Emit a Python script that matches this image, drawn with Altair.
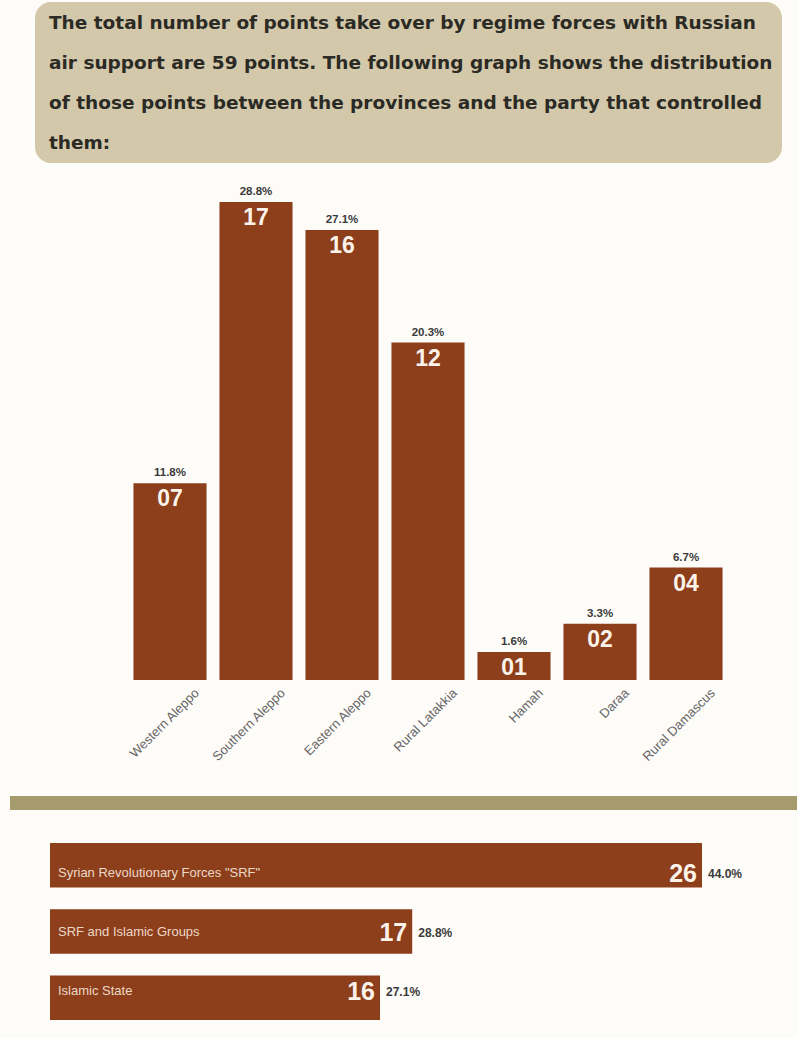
import altair as alt
import pandas as pd

# ---------------- data ----------------
header_lines = [
    "The total number of points take over by regime forces with Russian",
    "air support are 59 points. The following graph shows the distribution",
    "of those points between the provinces and the party that controlled",
    "them:",
]

provinces = ["Western Aleppo", "Southern Aleppo", "Eastern Aleppo", "Rural Latakkia",
             "Hamah", "Daraa", "Rural Damascus"]
province_points = [7, 17, 16, 12, 1, 2, 4]
province_labels = ["07", "17", "16", "12", "01", "02", "04"]
province_pct = ["11.8%", "28.8%", "27.1%", "20.3%", "1.6%", "3.3%", "6.7%"]

parties = ["Syrian Revolutionary Forces \"SRF\"", "SRF and Islamic Groups", "Islamic State"]
party_points = [26, 17, 16]
party_pct = ["44.0%", "28.8%", "27.1%"]

BROWN = "#8d3e1b"
TAN = "#d3c8aa"
OLIVE = "#a59b6c"
FONT = "Liberation Sans"

hdr = pd.DataFrame({"line": list(range(len(header_lines))), "text": header_lines})
prov = pd.DataFrame({"province": provinces, "points": province_points,
                     "label": province_labels, "pct": province_pct})
party = pd.DataFrame({"party": parties, "points": party_points, "pct": party_pct})

# ---------------- header ----------------
box = alt.Chart(pd.DataFrame({"a": [0]})).mark_rect(
    color=TAN, cornerRadius=16
).encode(x=alt.value(35), x2=alt.value(782), y=alt.value(2), y2=alt.value(163))

hdr_text = alt.Chart(hdr).mark_text(
    align="left", baseline="middle", font="DejaVu Sans", fontSize=18.5, fontWeight="bold",
    color="#2b2a24"
).encode(
    x=alt.value(49),
    y=alt.Y("line:Q", scale=alt.Scale(domain=[0, 3], range=[23, 143]), axis=None),
    text="text:N",
)

# ---------------- vertical bars ----------------
xs = alt.Scale(domain=provinces, range=[127, 729], paddingInner=0.15, paddingOuter=0.075)
ys = alt.Scale(domain=[0, 17], range=[680, 202])
X = alt.X("province:N", scale=xs, axis=None, sort=provinces)
Y = alt.Y("points:Q", scale=ys, axis=None)

vbars = alt.Chart(prov).mark_bar(color=BROWN).encode(x=X, y=Y, y2=alt.datum(0))

vval = alt.Chart(prov).mark_text(
    baseline="top", dy=5, font=FONT, fontSize=23, fontWeight="bold", color="#fbf3ea"
).encode(x=X, y=Y, text="label:N")

vpct = alt.Chart(prov).mark_text(
    baseline="bottom", dy=-5, font=FONT, fontSize=11.5, fontWeight="bold", color="#3a3a3a"
).encode(x=X, y=Y, text="pct:N")

vaxis = alt.Chart(prov).mark_text(
    align="right", baseline="middle", angle=315, font=FONT,
    fontSize=13, color="#666666"
).encode(
    x=alt.X("province:N", scale=alt.Scale(domain=provinces, range=[154, 756],
                                          paddingInner=0.15, paddingOuter=0.075),
            axis=None, sort=provinces),
    y=alt.value(691),
    text="province:N",
)

# ---------------- separator ----------------
sep = alt.Chart(pd.DataFrame({"a": [0]})).mark_rect(color=OLIVE).encode(
    x=alt.value(10), x2=alt.value(797), y=alt.value(796), y2=alt.value(810)
)

# ---------------- horizontal bars ----------------
hx = alt.Scale(domain=[5.75, 26], range=[50, 702], zero=False)
hy = alt.Scale(domain=parties, range=[843, 1020], paddingInner=0.33, paddingOuter=0)
HX = alt.X("points:Q", scale=hx, axis=None)
HY = alt.Y("party:N", scale=hy, axis=None, sort=parties)

hbars = alt.Chart(party).mark_bar(color=BROWN).encode(
    x=alt.X("start:Q", scale=hx, axis=None), x2="points:Q", y=HY
).transform_calculate(start="5.75")

hname = alt.Chart(party).mark_text(
    align="left", baseline="middle", font=FONT, fontSize=13, color="#ecd9c8"
).encode(x=alt.value(58), y=HY, text="party:N")

hval = alt.Chart(party).mark_text(
    align="right", baseline="middle", dx=-5, dy=1, font=FONT, fontSize=25,
    fontWeight="bold", color="#fbf3ea"
).encode(x=HX, y=HY, text="points:Q")

hpct = alt.Chart(party).mark_text(
    align="left", baseline="middle", dx=6, dy=1, font=FONT, fontSize=12,
    fontWeight="bold", color="#3a3a3a"
).encode(x=HX, y=HY, text="pct:N")

chart = alt.layer(
    box, hdr_text, vbars, vval, vpct, vaxis, sep, hbars, hname, hval, hpct
).resolve_scale(x="independent", y="independent").properties(
    width=797, height=1038, background="#fefcf9",
    padding=0, autosize=alt.AutoSizeParams(type="none"),
).configure_view(stroke=None)

chart.save("out.html", embed_options={"renderer": "svg", "actions": False})
